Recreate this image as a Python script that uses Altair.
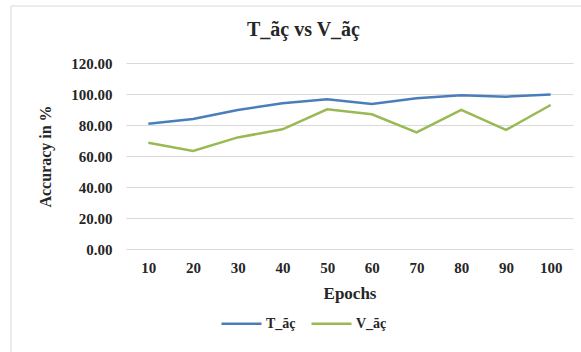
import altair as alt
import pandas as pd

epochs = [10, 20, 30, 40, 50, 60, 70, 80, 90, 100]
t_acc = [80.8, 83.9, 89.7, 94.0, 96.6, 93.5, 97.2, 99.2, 98.3, 99.7]
v_acc = [68.6, 63.2, 72.0, 77.2, 90.1, 86.9, 75.3, 89.7, 76.8, 92.9]
series = ["T_ãç", "V_ãç"]
colors = ["#4A7EBB", "#98B954"]
y_ticks = [0, 20, 40, 60, 80, 100, 120]

rows = []
for e, t, v in zip(epochs, t_acc, v_acc):
    rows.append({"Epoch": e, "Acc": t, "Series": series[0]})
    rows.append({"Epoch": e, "Acc": v, "Series": series[1]})
df = pd.DataFrame(rows)

FONT = "Liberation Serif"

lines = alt.Chart(df).mark_line(strokeWidth=2.5).encode(
    x=alt.X(
        "Epoch:O",
        sort=epochs,
        scale=alt.Scale(type="point", padding=0.5),
        axis=alt.Axis(
            title="Epochs",
            labelAngle=0,
            ticks=False,
            domain=False,
            grid=False,
            labelPadding=11,
            titlePadding=10,
            labelFont=FONT,
            labelFontSize=15,
            labelFontWeight="bold",
            labelColor="#262626",
            titleFont=FONT,
            titleFontSize=17,
            titleFontWeight="bold",
            titleColor="#262626",
        ),
    ),
    y=alt.Y(
        "Acc:Q",
        scale=alt.Scale(domain=[0, 120], nice=False),
        axis=alt.Axis(
            title="Accuracy in %",
            values=y_ticks,
            format=".2f",
            ticks=False,
            domain=False,
            grid=True,
            gridColor="#D9D9D9",
            gridWidth=1,
            labelPadding=14,
            labelFont=FONT,
            labelFontSize=15,
            labelFontWeight="bold",
            labelColor="#262626",
            titleFont=FONT,
            titleFontSize=16,
            titleFontWeight="bold",
            titleColor="#262626",
            titleAngle=270,
            titleX=-81,
            titleY=93,
            titleAlign="center",
            titleBaseline="middle",
        ),
    ),
    color=alt.Color(
        "Series:N",
        scale=alt.Scale(domain=series, range=colors),
        legend=alt.Legend(
            title=None,
            orient="none",
            legendX=94,
            legendY=239,
            direction="horizontal",
            symbolType="stroke",
            symbolSize=1600,
            symbolStrokeWidth=2.5,
            labelFont=FONT,
            labelFontSize=14,
            labelFontWeight="bold",
            labelColor="#262626",
            labelOffset=3,
            columnPadding=10,
        ),
    ),
)

frame = alt.Chart(pd.DataFrame({"k": [0]})).mark_rect(
    filled=False, stroke="#D9D9D9", strokeWidth=1
).encode(
    x=alt.value(-115), x2=alt.value(700), y=alt.value(-57), y2=alt.value(500)
)

chart = alt.layer(frame, lines).properties(
    width=447,
    height=186,
    padding={"left": 126, "top": 63, "right": 8, "bottom": 103},
    autosize=alt.AutoSizeParams(type="none"),
    background="white",
    title=alt.TitleParams(
        text="T_ãç vs V_ãç",
        font=FONT,
        fontSize=20,
        fontWeight="bold",
        color="#262626",
        anchor="middle",
        frame="group",
        baseline="alphabetic",
        dx=-46,
        offset=-50,
    ),
).configure_view(stroke=None)

chart.save("out.html", embed_options={"renderer": "svg", "actions": False})
